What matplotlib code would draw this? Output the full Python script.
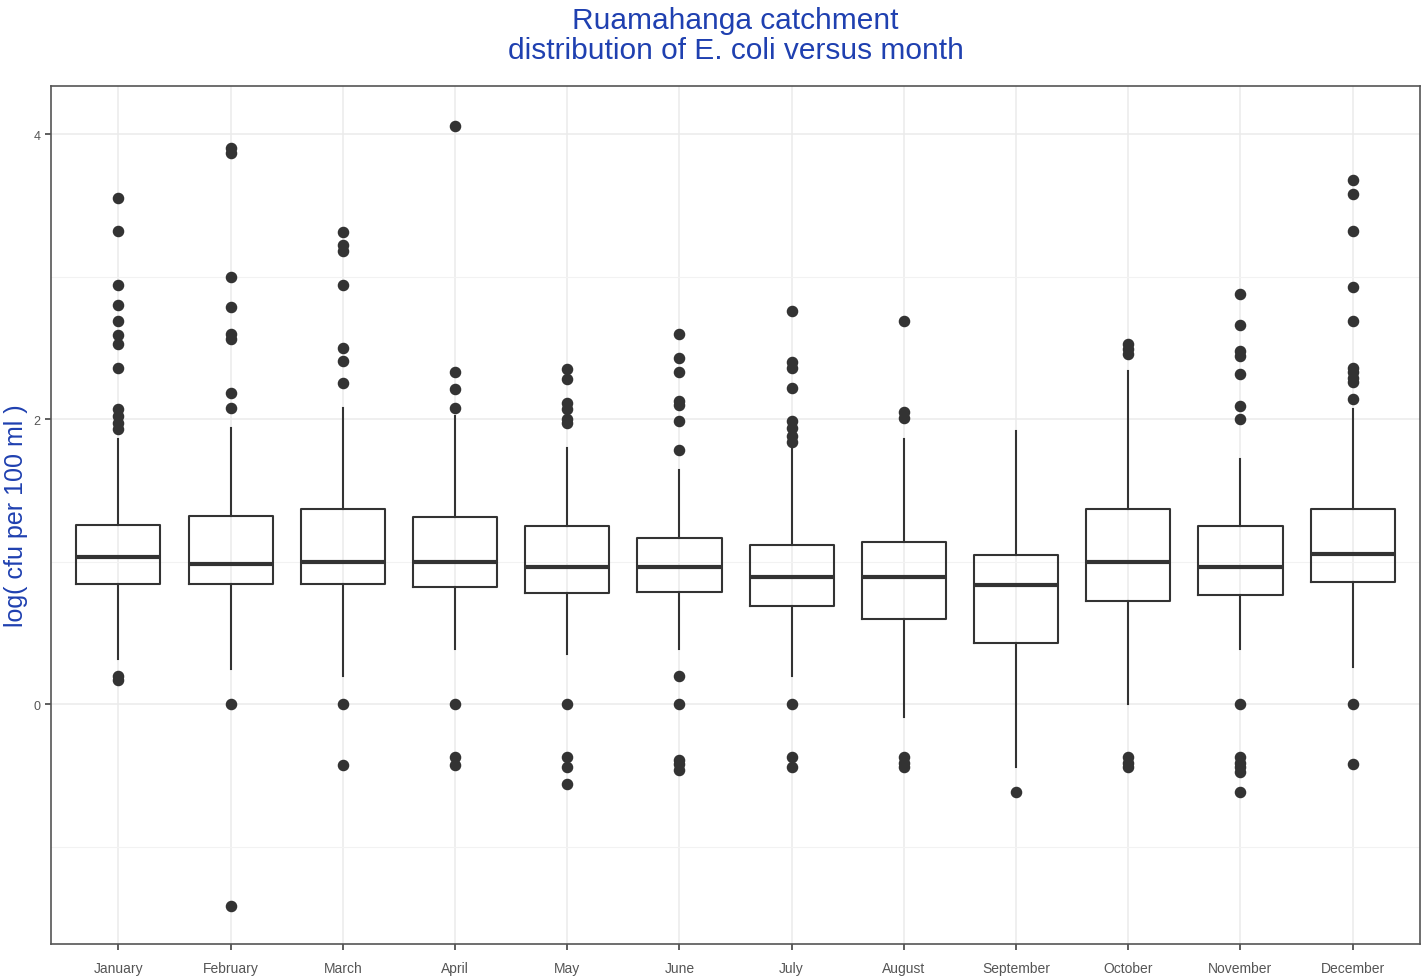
import matplotlib
matplotlib.use('Agg')
import matplotlib.pyplot as plt
import numpy as np

months = ['January', 'February', 'March', 'April', 'May', 'June',
          'July', 'August', 'September', 'October', 'November', 'December']

# box statistics (log10 cfu per 100 ml)
q1 = [0.84, 0.84, 0.84, 0.82, 0.78, 0.79, 0.69, 0.60, 0.43, 0.72, 0.765, 0.856]
med = [1.03, 0.98, 1.00, 1.00, 0.96, 0.96, 0.89, 0.89, 0.835, 1.00, 0.96, 1.05]
q3 = [1.26, 1.32, 1.37, 1.31, 1.25, 1.165, 1.12, 1.14, 1.046, 1.37, 1.25, 1.37]
whislo = [0.316, 0.245, 0.20, 0.386, 0.35, 0.386, 0.20, -0.09, -0.44, 0.00, 0.386, 0.26]
whishi = [1.86, 1.94, 2.08, 2.02, 1.80, 1.64, 1.79, 1.86, 1.92, 2.34, 1.72, 2.07]

outliers = [
	[0.17, 0.20, 3.55, 3.32, 2.94, 2.80, 2.69, 2.59, 2.53, 2.36, 2.07, 2.02, 1.97, 1.93],
	[0.0, -1.42, 3.90, 3.87, 3.00, 2.79, 2.60, 2.56, 2.18, 2.08],
	[0.0, -0.43, 3.31, 3.22, 3.18, 2.94, 2.50, 2.41, 2.25],
	[0.0, -0.37, -0.43, 4.06, 2.33, 2.21, 2.08],
	[0.0, -0.37, -0.44, -0.56, 2.35, 2.28, 2.11, 2.07, 2.00, 1.97],
	[0.20, 0.0, -0.39, -0.42, -0.46, 2.60, 2.43, 2.33, 2.13, 2.10, 1.99, 1.78],
	[0.0, -0.37, -0.44, 2.76, 2.40, 2.36, 2.22, 1.99, 1.94, 1.88, 1.84],
	[-0.37, -0.41, -0.44, 2.69, 2.05, 2.01],
	[-0.62],
	[-0.37, -0.41, -0.44, 2.53, 2.49, 2.46],
	[0.0, -0.37, -0.41, -0.44, -0.48, -0.62, 2.88, 2.66, 2.48, 2.44, 2.32, 2.09, 2.00],
	[0.0, -0.42, 3.68, 3.58, 3.32, 2.93, 2.69, 2.36, 2.33, 2.29, 2.26, 2.14],
]

title_col = '#1f40b0'
dark = '#333333'

stats = []
for i, m in enumerate(months):
	stats.append(dict(label=m, q1=q1[i], med=med[i], q3=q3[i],
					  whislo=whislo[i], whishi=whishi[i], fliers=outliers[i]))

plt.rcParams['font.family'] = ['Liberation Sans', 'DejaVu Sans']

fig = plt.figure(figsize=(14.22, 9.79), dpi=100)
ax = fig.add_axes([0.0359, 0.0347, 0.9627, 0.8763])

ax.set_axisbelow(True)
ax.grid(True, which='major', color='#ebebeb', linewidth=1.1)
ax.grid(True, which='minor', axis='y', color='#f2f2f2', linewidth=0.8)

ax.bxp(stats, positions=np.arange(1, 13), widths=0.75, showcaps=False,
	   boxprops=dict(color=dark, linewidth=1.5),
	   whiskerprops=dict(color=dark, linewidth=1.5),
	   medianprops=dict(color=dark, linewidth=3),
	   flierprops=dict(marker='o', markerfacecolor=dark, markeredgecolor=dark,
					   markersize=7.3, linestyle='none'),
	   patch_artist=False)

ax.set_xlim(0.4, 12.6)
ax.set_ylim(-1.684, 4.337)
ax.set_yticks([0, 2, 4])
ax.set_yticks([-1, 1, 3], minor=True)
ax.tick_params(axis='y', which='minor', length=0)
ax.tick_params(axis='both', which='major', colors=dark, labelcolor='#555555',
			   labelsize=10, length=4, width=1.1)
ax.tick_params(axis='x', which='major', pad=8)
ax.tick_params(axis='y', which='major', labelsize=9)
ax.set_xticks(np.arange(1, 13))
ax.set_xticklabels(months)

for s in ax.spines.values():
	s.set_color('#555555')
	s.set_linewidth(1.2)

ax.set_ylabel('log( cfu per 100 ml )', color=title_col, fontsize=18, labelpad=4)
ax.set_title('Ruamahanga catchment\ndistribution of E. coli versus month',
			 color=title_col, fontsize=21.5, linespacing=1.1, pad=20)

plt.savefig('out.png', dpi=100)
